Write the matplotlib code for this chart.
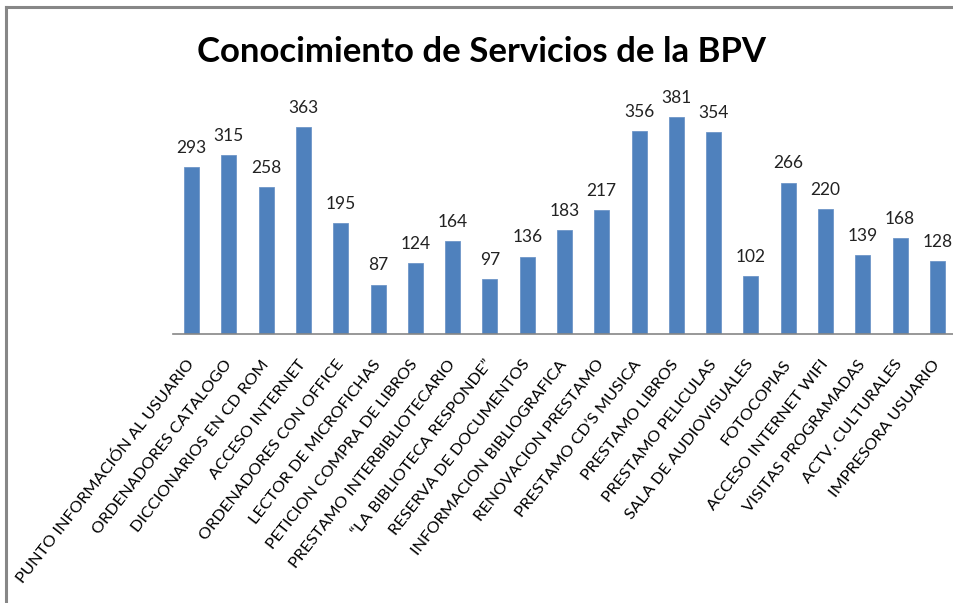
import matplotlib
matplotlib.use('Agg')
import matplotlib.pyplot as plt
from matplotlib.lines import Line2D

servicios = ['PUNTO INFORMACIÓN AL USUARIO', 'ORDENADORES CATALOGO',
             'DICCIONARIOS EN CD ROM', 'ACCESO INTERNET',
             'ORDENADORES CON OFFICE', 'LECTOR DE MICROFICHAS',
             'PETICION COMPRA DE LIBROS', 'PRESTAMO INTERBIBLIOTECARIO',
             '“LA BIBLIOTECA RESPONDE”', 'RESERVA DE DOCUMENTOS',
             'INFORMACION BIBLIOGRAFICA', 'RENOVACION PRESTAMO',
             'PRESTAMO CD’S MUSICA', 'PRESTAMO LIBROS', 'PRESTAMO PELICULAS',
             'SALA DE AUDIOVISUALES', 'FOTOCOPIAS', 'ACCESO INTERNET WIFI',
             'VISITAS PROGRAMADAS', 'ACTV. CULTURALES', 'IMPRESORA USUARIO']
conocen = [293, 315, 258, 363, 195, 87, 124, 164, 97, 136, 183, 217,
           356, 381, 354, 102, 266, 220, 139, 168, 128]

plt.rcParams['font.family'] = ['Lato', 'DejaVu Sans']

fig = plt.figure(figsize=(9.54, 6.03), dpi=100)
ax = fig.add_axes([0.1813, 0.446, 0.8208, 0.425])

x = range(len(conocen))
bars = ax.bar(x, conocen, width=0.4, color='#4F81BD', edgecolor='#6F96C8', linewidth=0.6)
for xi, v in zip(x, conocen):
    ax.annotate(str(v), (xi, v), xytext=(0, 8), textcoords='offset points',
                ha='center', va='bottom', fontsize=12.5, color='#222222')

ax.set_xlim(-0.5, len(conocen) - 0.5)
ax.set_ylim(0, 450)
ax.set_xticks(list(x))
ax.set_xticklabels(servicios, rotation=52, ha='right', va='center',
                   rotation_mode='anchor', fontsize=11.8)
ax.tick_params(axis='x', length=0, pad=20)
ax.set_yticks([])
for s in ['top', 'right', 'left']:
    ax.spines[s].set_visible(False)
ax.spines['bottom'].set_color('#868686')
ax.spines['bottom'].set_linewidth(1.2)

fig.text(0.505, 0.913, 'Conocimiento de Servicios de la BPV', ha='center', va='center',
         fontsize=25, fontweight='bold')

# borde gris del grafico (izquierda y arriba)
fig.add_artist(Line2D([6 / 954, 6 / 954], [0, 1 - 6.5 / 603], color='#878787', lw=2.2))
fig.add_artist(Line2D([6 / 954, 1], [1 - 6.5 / 603, 1 - 6.5 / 603], color='#878787', lw=2.2))

plt.savefig('out.png', dpi=100)
